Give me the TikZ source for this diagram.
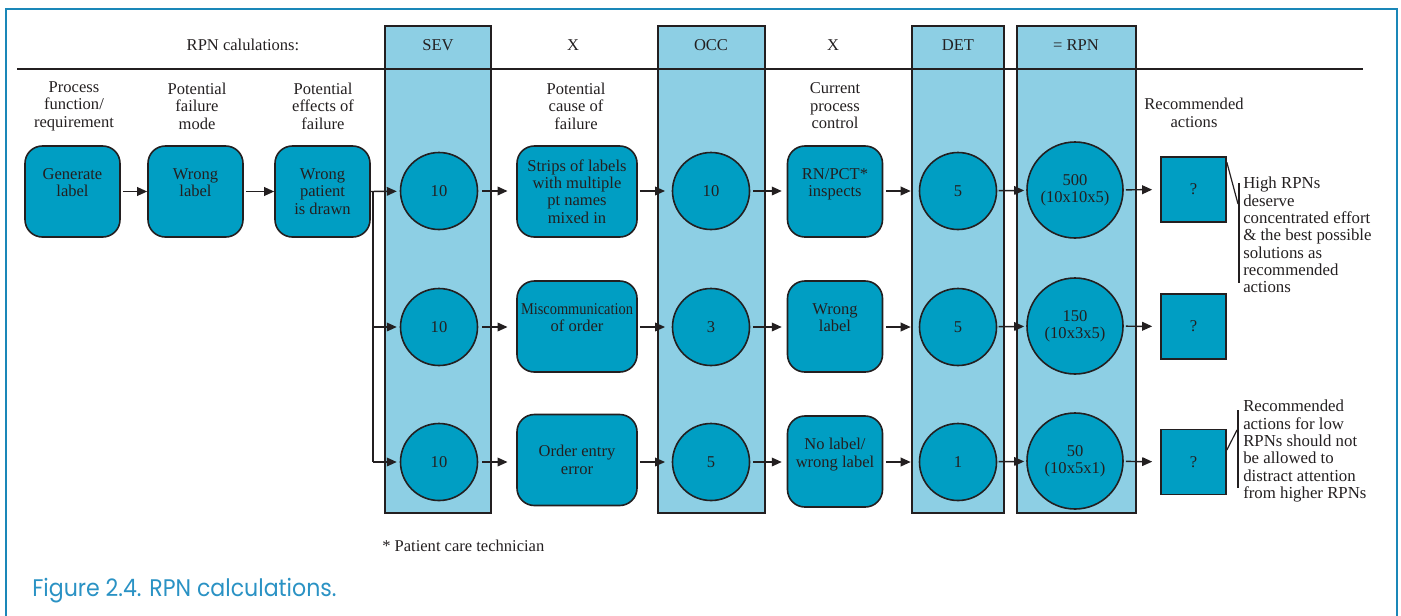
\documentclass[tikz,border=0pt]{standalone}
\usepackage{fontspec}
\setmainfont{Liberation Serif}
\newfontfamily\capfont{Poppins}[FakeStretch=0.92]
\usetikzlibrary{arrows.meta,calc}
\definecolor{frameblue}{HTML}{1A87B8}
\definecolor{capblue}{HTML}{2A92C4}
\definecolor{bandfill}{HTML}{8DCFE4}
\definecolor{nodefill}{HTML}{009EC3}
\definecolor{ink}{HTML}{231F20}
\begin{document}
\begin{tikzpicture}[x=0.75pt,y=-0.75pt,
  every node/.style={font=\fontsize{12.4}{13.1}\selectfont, text=ink},
  band/.style={draw=ink, line width=1.1pt, fill=bandfill},
  rbox/.style={draw=ink, line width=1.2pt, fill=nodefill, rounded corners=13pt,
    minimum width=71.25pt, minimum height=68.25pt, align=center, inner sep=1pt},
  widebox/.style={rbox, minimum width=90pt},
  score/.style={draw=ink, line width=1.2pt, fill=nodefill, circle,
    minimum size=57.75pt, inner sep=0pt, align=center},
  rpn/.style={score, minimum size=72pt},
  qbox/.style={draw=ink, line width=1.2pt, fill=nodefill, minimum size=48.75pt, inner sep=0pt},
  arr/.style={draw=ink, line width=1.1pt, -{Triangle[length=7.5pt,width=6.5pt]}},
  wire/.style={draw=ink, line width=1.1pt},
  head/.style={align=center, inner sep=0pt},
  note/.style={align=left, anchor=north west, inner sep=0pt, font=\fontsize{12.6}{13}\selectfont},
]
\useasboundingbox (0,0) rectangle (1401,615);

% outer frame
\draw[frameblue, line width=1.5pt] (6,616) -- (6,9) -- (1397,9) -- (1397,616);

% rating columns
\draw[band] (385,26) rectangle (491,513);
\draw[band] (658,26) rectangle (765,513);
\draw[band] (912,26) rectangle (1004,513);
\draw[band] (1017,26) rectangle (1136,513);

% header rule
\draw[ink, line width=1.2pt] (17,69) -- (1363,69);

% header labels
\node (hcalc) at (243,45) {RPN calulations:};
\node (hsev) at (438,45) {SEV};
\node (hx1) at (573,45) {X};
\node (hocc) at (711,45) {OCC};
\node (hx2) at (833,45) {X};
\node (hdet) at (958,45) {DET};
\node (hrpn) at (1076,45) {= RPN};

% column headings
\node[head] (t1) at (74,106) {Process\\function/\\requirement};
\node[head] (t2) at (197,106) {Potential\\failure\\mode};
\node[head] (t3) at (323,106) {Potential\\effects of\\failure};
\node[head] (t4) at (576,106) {Potential\\cause of\\failure};
\node[head] (t5) at (835,106) {Current\\process\\control};
\node[head] (t6) at (1194,113) {Recommended\\actions};

% row 1
\node[rbox] (b1) at (72.5,191.5) {Generate\\label\\\mbox{}};
\node[rbox] (b2) at (195.5,191.5) {Wrong\\label\\\mbox{}};
\node[rbox] (b3) at (322.5,191.5) {Wrong\\patient\\is drawn};
\node[score] (s1) at (439,191) {10};
\node[widebox] (c1) at (577,191.5) {Strips of labels\\with multiple\\pt names\\mixed in};
\node[score] (o1) at (711,191) {10};
\node[rbox] (p1) at (835,191.5) {RN/PCT*\\inspects\\\mbox{}};
\node[score] (d1) at (958,191) {5};
\node[rpn] (r1) at (1075,190) {500\\(10x10x5)};
\node[qbox] (q1) at (1193.5,189.5) {?};

% row 2
\node[score] (s2) at (439,327) {10};
\node[widebox] (c2) at (577,326.5) {\scalebox{0.87}[1]{Miscommunication}\\of order\\\mbox{}};
\node[score] (o2) at (711,327) {3};
\node[rbox] (p2) at (835,326.5) {Wrong\\label\\\mbox{}};
\node[score] (d2) at (958,327) {5};
\node[rpn] (r2) at (1075,326) {150\\(10x3x5)};
\node[qbox] (q2) at (1193.5,326.5) {?};

% row 3
\node[score] (s3) at (439,462) {10};
\node[widebox] (c3) at (577,460) {Order entry\\error};
\node[score] (o3) at (711,462) {5};
\node[rbox] (p3) at (835,461.5) {No label/\\wrong label\\\mbox{}};
\node[score] (d3) at (958,462) {1};
\node[rpn] (r3) at (1075,461) {50\\(10x5x1)};
\node[qbox] (q3) at (1193.5,462) {?};

% flow
\draw[arr, shorten <=1.5pt] (b1) -- (b2);
\draw[arr, shorten <=1.5pt] (b2) -- (b3);
\coordinate (br) at ($(b3.east)+(2,0)$);
\draw[arr, shorten >=2.2pt] (b3.east) -- (s1);
\draw[wire] (br) -- (br |- s3);
\draw[arr, shorten >=2.2pt] (br) |- (s2);
\draw[arr, shorten >=2.2pt] (br |- s3) -- (s3);

\foreach \i in {1,2,3}{
  \draw[arr, shorten <=3pt, shorten >=6.5pt] (s\i) -- (c\i.west |- s\i);
  \draw[arr, shorten <=1.5pt, shorten >=5pt] (c\i.east |- o\i) -- (o\i);
  \draw[arr, shorten <=2.2pt, shorten >=3.7pt] (o\i) -- (p\i.west |- o\i);
  \draw[arr, shorten <=2.2pt, shorten >=6pt] (p\i.east |- d\i) -- (d\i);
  \draw[arr, shorten <=1pt, shorten >=1.5pt] (d\i) -- (r\i);
  \draw[arr, shorten <=1.5pt, shorten >=6pt] (r\i) -- (q\i);
}

% annotations
\coordinate (k1a) at (1239,183);
\coordinate (k1b) at (1239,283);
\draw[wire] (k1a) -- (k1b);
\draw[wire, line width=0.9pt] ($(q1.north east)+(0,6)$) -- (1238,204);
\node[note] (n1) at (1243,177) {High RPNs\\deserve\\concentrated effort\\\& the best possible\\solutions as\\recommended\\actions};

\coordinate (k3a) at (1238,410);
\coordinate (k3b) at (1238,488);
\draw[wire] (k3a) -- (k3b);
\draw[wire, line width=0.9pt] ($(q3.east)+(0,-12)$) -- (1237,430);
\node[note] (n3) at (1243,400) {Recommended\\actions for low\\RPNs should not\\be allowed to\\distract attention\\from higher RPNs};

% footnote and caption
\node[anchor=west, inner sep=0pt] (fn) at (382,546) {* Patient care technician};
\node[anchor=base west, inner sep=0pt, text=capblue, font=\capfont\fontsize{18}{20}\selectfont] (cap) at (32,596) {Figure 2.4. RPN calculations.};
\end{tikzpicture}
\end{document}
